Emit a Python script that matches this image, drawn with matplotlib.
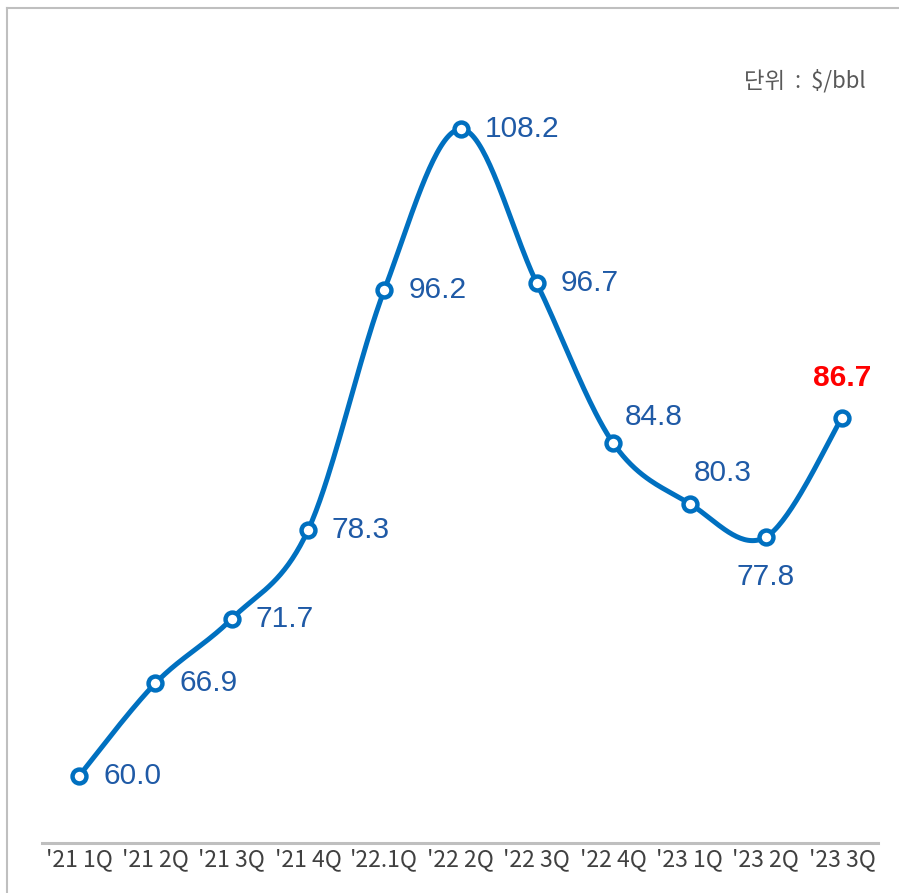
import matplotlib.pyplot as plt
import numpy as np
from matplotlib.lines import Line2D

quarters = ["'21 1Q", "'21 2Q", "'21 3Q", "'21 4Q", "'22.1Q", "'22 2Q",
            "'22 3Q", "'22 4Q", "'23 1Q", "'23 2Q", "'23 3Q"]
prices = [60.0, 66.9, 71.7, 78.3, 96.2, 108.2, 96.7, 84.8, 80.3, 77.8, 86.7]

LINE_BLUE = '#0070C0'
LABEL_BLUE = '#1F5AA6'
GRAY = '#BFBFBF'


def smooth(x, y, steps=40):
    """Catmull-Rom style smoothing, similar to office chart smoothed lines."""
    x = np.asarray(x, float)
    y = np.asarray(y, float)
    px = np.concatenate([[x[0]], x, [x[-1]]])
    py = np.concatenate([[y[0]], y, [y[-1]]])
    xs, ys = [], []
    for i in range(1, len(px) - 2):
        p0 = np.array([px[i - 1], py[i - 1]])
        p1 = np.array([px[i], py[i]])
        p2 = np.array([px[i + 1], py[i + 1]])
        p3 = np.array([px[i + 2], py[i + 2]])
        c1 = p1 + (p2 - p0) / 6
        c2 = p2 - (p3 - p1) / 6
        t = np.linspace(0, 1, steps)[:, None]
        pts = ((1 - t) ** 3) * p1 + 3 * ((1 - t) ** 2) * t * c1 + 3 * (1 - t) * t ** 2 * c2 + t ** 3 * p2
        xs.extend(pts[:, 0])
        ys.extend(pts[:, 1])
    return np.array(xs), np.array(ys)


fig = plt.figure(figsize=(8.99, 8.93), dpi=100)
W, H = 899, 893
ax = fig.add_axes([42 / W, (H - 843) / H, (878 - 42) / W, (843 - 100) / H])
ax.set_xlim(-0.485, 10.47)
ax.set_ylim(55.0, 110.37)

xi = np.arange(len(prices))
sx, sy = smooth(xi, prices)
ax.plot(sx, sy, color=LINE_BLUE, lw=3.6, solid_capstyle='round', zorder=2)
ax.plot(xi, prices, ls='none', marker='o', ms=10, mfc='white', mec=LINE_BLUE,
        mew=3.2, zorder=3)

# label offsets in pixels (dx, dy, ha, va)
offsets = [(24, 0, 'left', 'center')] * 7 + [
    (12, 26, 'left', 'center'),
    (4, 31, 'left', 'center'),
    (0, -40, 'center', 'center'),
    (0, 40, 'center', 'center'),
]
for i, (v, (dx, dy, ha, va)) in enumerate(zip(prices, offsets)):
    last = i == len(prices) - 1
    ax.annotate(f'{v:.1f}', (i, v), xytext=(dx, dy), textcoords='offset pixels',
                ha=ha, va=va, fontsize=21.5, family='Liberation Sans',
                color='red' if last else LABEL_BLUE,
                fontweight='bold' if last else 'normal')

for s in ['top', 'right', 'left']:
    ax.spines[s].set_visible(False)
ax.spines['bottom'].set_color(GRAY)
ax.spines['bottom'].set_linewidth(2.2)
ax.set_yticks([])
ax.set_xticks(xi)
ax.set_xticklabels(quarters, family='Noto Sans CJK KR', fontsize=16.5,
                   fontweight='light', color='#404040')
ax.tick_params(axis='x', length=0, pad=4)

fig.text(866 / W, 1 - 81 / H, '단위  :  $/bbl', ha='right', va='center',
         family='Noto Sans CJK KR', fontsize=16, fontweight='light',
         color='#595959')

# outer frame (left and top edges)
fig.add_artist(Line2D([7 / W, 7 / W], [0, 1 - 8 / H], transform=fig.transFigure,
                      color=GRAY, lw=1.5))
fig.add_artist(Line2D([7 / W, 1], [1 - 8 / H, 1 - 8 / H], transform=fig.transFigure,
                      color=GRAY, lw=1.5))

fig.savefig('out.png', dpi=100)
